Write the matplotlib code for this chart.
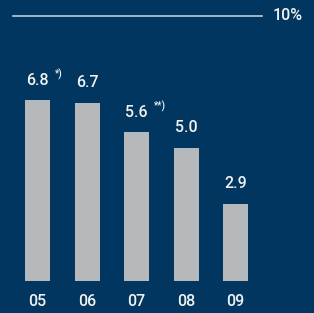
import numpy as np
import matplotlib
matplotlib.use("Agg")
import matplotlib.pyplot as plt

years = ["05", "06", "07", "08", "09"]
values = [6.8, 6.7, 5.6, 5.0, 2.9]
notes = ["*)", "", "**)", "", ""]
ref_value = 10
ref_label = "10%"

bg = "#003660"
bar_color = "#B5B9BC"
text_color = "#F2F2F2"

plt.rcParams['font.family'] = ['Roboto', 'DejaVu Sans']

fig = plt.figure(figsize=(3.14, 3.13), dpi=100, facecolor=bg)
ax = fig.add_axes([0, 0, 1, 1])
ax.set_facecolor(bg)

x = np.arange(len(years))
ax.bar(x, values, width=0.505, color=bar_color)

for xi, v, n in zip(x, values, notes):
    ax.text(xi, v + 0.48, f"{v:.1f}", ha="center", va="bottom",
            color=text_color, fontsize=11.5, fontweight="medium")
    if n:
        ax.annotate(n, (xi + 0.35, v + 0.48), xytext=(0, 5.5),
                    textcoords="offset points", ha="left", va="bottom",
                    color=text_color, fontsize=7, fontweight="medium")

# reference line
ax.plot([-0.495, 4.535], [ref_value, ref_value], color="#C8CBCE", lw=1.2)
ax.text(4.76, ref_value, ref_label, ha="left", va="center",
        color=text_color, fontsize=11.5, fontweight="medium")

for xi, lab in zip(x, years):
    ax.text(xi, -0.78, lab, ha="center", va="center",
            color=text_color, fontsize=11.5, fontweight="medium")

ax.set_xlim(-0.758, 5.586)
ax.set_ylim(-1.219, 10.59)
ax.axis("off")

fig.savefig("out.png", dpi=100, facecolor=bg)
